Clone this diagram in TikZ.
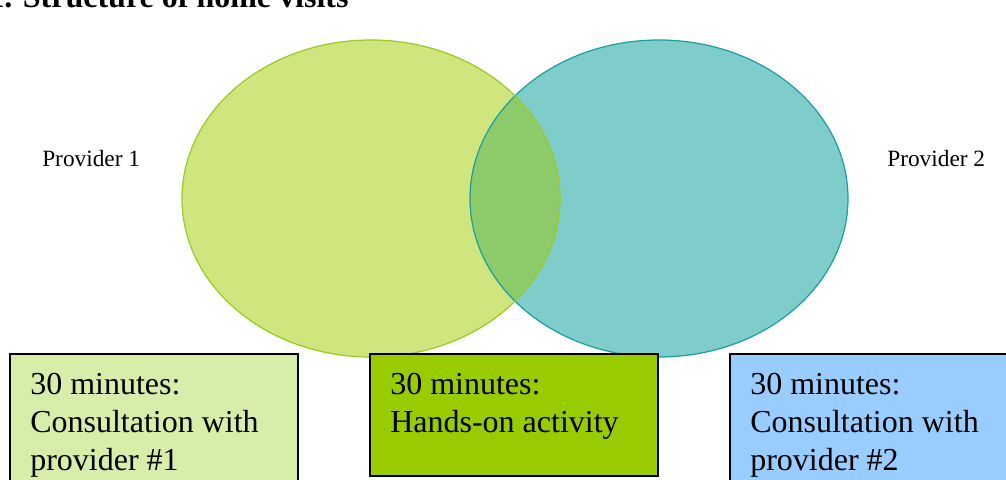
\documentclass[tikz,border=0pt]{standalone}
\usepackage{fontspec}
\setmainfont{Liberation Serif}
\usetikzlibrary{shapes.geometric}
\definecolor{leftfill}{HTML}{CFE57E}
\definecolor{leftline}{HTML}{9ACB1E}
\definecolor{rightfill}{HTML}{7ECDCA}
\definecolor{rightline}{HTML}{1A9EA2}
\definecolor{lensfill}{HTML}{8DCB6A}
\definecolor{boxA}{HTML}{D7EDAA}
\definecolor{boxB}{HTML}{99CC00}
\definecolor{boxC}{HTML}{99CCFF}
\tikzset{
  venn/.style={ellipse, inner sep=0pt, minimum width=283.5pt, minimum height=238pt},
  infobox/.style={draw=black, line width=1.4pt, inner sep=0pt, minimum width=216pt, anchor=north west},
  boxtext/.style={anchor=base west, inner sep=0pt, align=left, font=\fontsize{24}{28.5}\selectfont},
  provtext/.style={anchor=base west, inner sep=0pt, font=\fontsize{17.5}{21}\selectfont},
}
\begin{document}
\begin{tikzpicture}[x=0.75pt,y=-0.75pt]
\useasboundingbox (0,0) rectangle (1006,479);
\clip (0,0) rectangle (1006,479);
% title (cut off at top)
\node[anchor=base west, inner sep=0pt, font=\fontsize{24}{28}\selectfont\bfseries] (title) at (-12,7) {1. Structure of home visits};
% ellipses
\node[venn, fill=leftfill] (p1) at (371,198.5) {};
\node[venn, fill=rightfill] (p2) at (659,198.5) {};
\begin{scope}
  \clip (371,198.5) ellipse [x radius=189, y radius=158.5];
  \fill[lensfill] (659,198.5) ellipse [x radius=189, y radius=158.5];
\end{scope}
\draw[rightline, line width=0.9pt] (p2.center) ellipse [x radius=189, y radius=158.5];
\draw[leftline, line width=0.9pt] (p1.center) ellipse [x radius=189, y radius=158.5];
% provider labels
\node[provtext] (l1) at (42,166) {Provider 1};
\node[provtext] (l2) at (887,166) {Provider 2};
% boxes
\node[infobox, fill=boxA, minimum height=110pt] (b1) at (9,353) {};
\node[infobox, fill=boxB, minimum height=91.5pt] (b2) at (369,353) {};
\node[infobox, fill=boxC, minimum height=110pt] (b3) at (729,353) {};
\node[boxtext] (t1) at (30,470) {30 minutes:\\Consultation with\\provider \#1};
\node[boxtext] (t2) at (390,432) {30 minutes:\\Hands-on activity};
\node[boxtext] (t3) at (750,470) {30 minutes:\\Consultation with\\provider \#2};
\end{tikzpicture}
\end{document}
